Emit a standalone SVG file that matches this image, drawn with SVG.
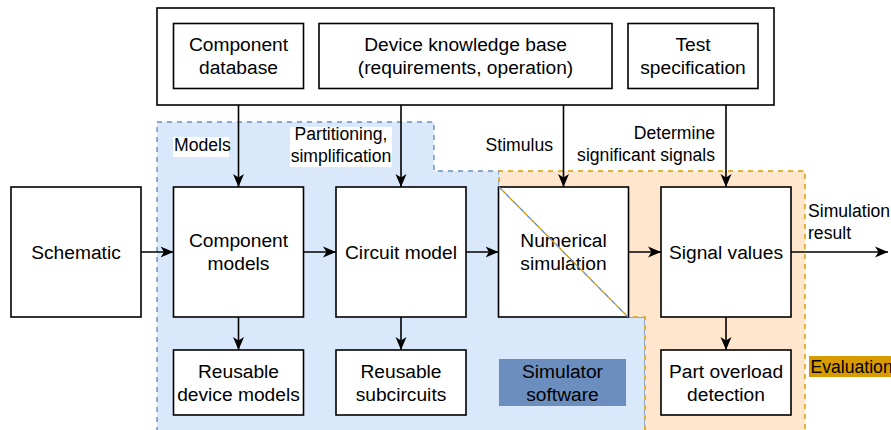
<svg xmlns="http://www.w3.org/2000/svg" width="891" height="430" viewBox="0 0 891 430">
  <defs>
    <marker id="arrow" markerUnits="userSpaceOnUse" markerWidth="13" markerHeight="13" viewBox="0 0 13 13" refX="13" refY="6.5" orient="auto">
      <path d="M0,1 L13,6.5 L0,12 L3.5,6.5 Z" fill="#000"/>
    </marker>
    <style>
      .box { fill: #fff; stroke: #000; stroke-width: 1.6; }
      .t { font-family: "Liberation Sans", Arial, Helvetica, sans-serif; font-size: 19.2px; fill: #000; text-anchor: middle; }
      .lbl { font-family: "Liberation Sans", Arial, Helvetica, sans-serif; font-size: 17.6px; fill: #000; }
      .edge { fill: none; stroke: #000; stroke-width: 1.6; marker-end: url(#arrow); }
      .blueArea { fill: #dae8fc; }
      .orangeArea { fill: #ffe6cc; }
      .blueLine { fill: none; stroke: #6c8ebf; stroke-width: 1.4; stroke-dasharray: 5 5; }
      .orangeLine { fill: none; stroke: #d79b00; stroke-width: 1.4; stroke-dasharray: 5 5; }
    </style>
  </defs>

  <!-- background regions -->
  <g id="region-simulator">
    <path class="blueArea" d="M157,122 H434 V171 H499 V187 L628,317 H645 V432 H157 Z"/>
    <path class="blueLine" d="M157,432 V122 H434 V171 H499 V187"/>
    <path class="blueLine" d="M628,317 H645 V432"/>
  </g>
  <g id="region-evaluation">
    <path class="orangeArea" d="M499,171 H805 V432 H645 V317 H628 L499,187 Z"/>
    <path class="orangeLine" stroke-dashoffset="5" d="M499,187 V171 H805 V432"/>
    <path class="orangeLine" stroke-dashoffset="5" d="M628,317 H645 V432"/>
  </g>

  <!-- inputs container -->
  <g id="inputs">
    <rect class="box" x="157" y="8" width="617" height="97"/>
  </g>
  <g id="component-database">
    <rect class="box" x="173.5" y="23.5" width="130" height="65"/>
    <text class="t" x="238.5" y="51">Component</text>
    <text class="t" x="238.5" y="74">database</text>
  </g>
  <g id="device-knowledge-base">
    <rect class="box" x="319" y="23.5" width="293" height="65"/>
    <text class="t" x="465.5" y="51">Device knowledge base</text>
    <text class="t" x="465.5" y="74">(requirements, operation)</text>
  </g>
  <g id="test-specification">
    <rect class="box" x="628" y="23.5" width="130" height="65"/>
    <text class="t" x="693" y="51">Test</text>
    <text class="t" x="693" y="74">specification</text>
  </g>

  <!-- main flow -->
  <g id="schematic">
    <rect class="box" x="11" y="187" width="130" height="130"/>
    <text class="t" x="76" y="258.5">Schematic</text>
  </g>
  <g id="component-models">
    <rect class="box" x="173.5" y="187" width="130" height="130"/>
    <text class="t" x="238.5" y="247">Component</text>
    <text class="t" x="238.5" y="270">models</text>
  </g>
  <g id="circuit-model">
    <rect class="box" x="336" y="187" width="130" height="130"/>
    <text class="t" x="401" y="258.5">Circuit model</text>
  </g>
  <g id="numerical-simulation">
    <rect class="box" x="498.5" y="187" width="130" height="130"/>
    <text class="t" x="563.5" y="247">Numerical</text>
    <text class="t" x="563.5" y="270">simulation</text>
  </g>
  <!-- shared region boundary crossing the simulation box -->
  <g id="region-diagonal">
    <path class="blueLine" d="M499,187 L628,317"/>
    <path class="orangeLine" stroke-dashoffset="5" d="M499,187 L628,317"/>
  </g>
  <g id="signal-values">
    <rect class="box" x="661" y="187" width="130" height="130"/>
    <text class="t" x="726" y="258.5">Signal values</text>
  </g>

  <!-- outputs -->
  <g id="reusable-device-models">
    <rect class="box" x="173.5" y="350" width="130" height="65"/>
    <text class="t" x="238.5" y="377.5">Reusable</text>
    <text class="t" x="238.5" y="400.5">device models</text>
  </g>
  <g id="reusable-subcircuits">
    <rect class="box" x="336" y="350" width="130" height="65"/>
    <text class="t" x="401" y="377.5">Reusable</text>
    <text class="t" x="401" y="400.5">subcircuits</text>
  </g>
  <g id="part-overload-detection">
    <rect class="box" x="661" y="350" width="130" height="65"/>
    <text class="t" x="726" y="377.5">Part overload</text>
    <text class="t" x="726" y="400.5">detection</text>
  </g>

  <!-- region titles -->
  <g id="simulator-software">
    <rect x="499" y="359" width="127" height="47" fill="#6c8ebf"/>
    <text class="t" x="562.5" y="377.5" fill="#1a1a1a">Simulator</text>
    <text class="t" x="562.5" y="400.5" fill="#1a1a1a">software</text>
  </g>
  <g id="evaluation">
    <rect x="809" y="356" width="90" height="21" fill="#d79b00"/>
    <text class="lbl" x="810.5" y="372.5" font-size="16.8px" fill="#1a1a1a">Evaluation</text>
  </g>

  <!-- connectors -->
  <g id="connectors">
    <path class="edge" d="M238.5,105 V187"/>
    <path class="edge" d="M401,105 V187"/>
    <path class="edge" d="M563.5,105 V187"/>
    <path class="edge" d="M726,105 V187"/>
    <path class="edge" d="M141,252 H173.5"/>
    <path class="edge" d="M303.5,252 H336"/>
    <path class="edge" d="M466,252 H498.5"/>
    <path class="edge" d="M628.5,252 H661"/>
    <path class="edge" d="M791,252 H888"/>
    <path class="edge" d="M238.5,317 V350"/>
    <path class="edge" d="M401,317 V350"/>
    <path class="edge" d="M726,317 V350"/>
  </g>

  <!-- connector labels -->
  <g id="edge-labels">
    <rect x="173" y="137" width="56" height="20" fill="#fff"/>
    <text class="lbl" x="174" y="151">Models</text>
    <rect x="290" y="127" width="102" height="40" fill="#fff"/>
    <text class="lbl" x="341" y="140" text-anchor="middle">Partitioning,</text>
    <text class="lbl" x="341" y="161.5" text-anchor="middle">simplification</text>
    <text class="lbl" x="553" y="151" text-anchor="end">Stimulus</text>
    <text class="lbl" x="715" y="139" text-anchor="end">Determine</text>
    <text class="lbl" x="715" y="161" text-anchor="end">significant signals</text>
    <text class="lbl" x="808" y="217">Simulation</text>
    <text class="lbl" x="808" y="239">result</text>
  </g>
</svg>
